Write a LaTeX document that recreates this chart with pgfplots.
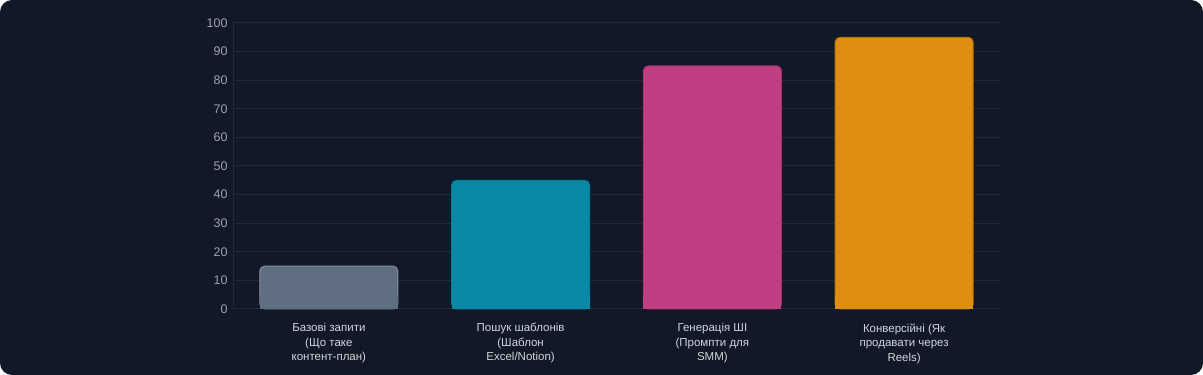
\documentclass[border=0pt]{standalone}
\usepackage{fontspec}
\setmainfont{Liberation Sans}
\usepackage{pgfplots}
\pgfplotsset{compat=1.18}
\definecolor{cardbg}{HTML}{111827}
\definecolor{gridc}{HTML}{1F2937}
\definecolor{ticklab}{HTML}{9CA3AF}
\definecolor{xlab}{HTML}{D1D5DB}
\definecolor{cA}{HTML}{5F6E81}
\definecolor{cAb}{HTML}{8391A5}
\definecolor{cB}{HTML}{0989A6}
\definecolor{cBb}{HTML}{0A7A93}
\definecolor{cC}{HTML}{C03F82}
\definecolor{cCb}{HTML}{A8356F}
\definecolor{cD}{HTML}{DE8F0F}
\definecolor{cDb}{HTML}{B8740C}
\begin{document}
\begin{tikzpicture}[x=1pt,y=1pt]
\fill[white] (0,0) rectangle (1203,375);
\fill[cardbg, rounded corners=12pt] (0,0) rectangle (1203,375);
\begin{axis}[
  at={(233pt,66pt)}, anchor=south west,
  scale only axis, width=767pt, height=286pt,
  xmin=-0.5, xmax=3.5, ymin=0, ymax=100,
  ytick={0,10,...,100},
  xtick={0,1,2,3},
  xticklabels={{Базові запити\\(Що таке\\контент-план)},{Пошук шаблонів\\(Шаблон\\Excel/Notion)},{Генерація ШІ\\(Промпти для\\SMM)},{Конверсійні (Як\\продавати через\\Reels)}},
  xticklabel style={align=center, font=\fontsize{11.5}{14.5}\selectfont, text=xlab, yshift=-3pt},
  yticklabel style={font=\fontsize{12.5}{14}\selectfont, text=ticklab, xshift=-2pt},
  /pgf/number format/assume math mode=true,
  ymajorgrids, grid style={gridc, line width=1pt},
  axis line style={gridc, line width=1pt},
  axis x line*=bottom, axis y line*=left,
  x axis line style={-}, y axis line style={-},
  ytick style={gridc, line width=1pt},
  major tick length=8pt,
  xtick style={draw=none},
  ybar, bar width=0.72, bar shift=0pt,
  clip=false,
]
\addplot[fill=cA, draw=cAb, line width=1pt, rounded corners=5pt] coordinates {(0,15)};
\addplot[fill=cA, draw=none] coordinates {(0,5)};
\addplot[fill=cB, draw=cBb, line width=1pt, rounded corners=5pt] coordinates {(1,45)};
\addplot[fill=cB, draw=none] coordinates {(1,5)};
\addplot[fill=cC, draw=cCb, line width=1pt, rounded corners=5pt] coordinates {(2,85)};
\addplot[fill=cC, draw=none] coordinates {(2,5)};
\addplot[fill=cD, draw=cDb, line width=1pt, rounded corners=5pt] coordinates {(3,95)};
\addplot[fill=cD, draw=none] coordinates {(3,5)};
\end{axis}
\end{tikzpicture}
\end{document}
